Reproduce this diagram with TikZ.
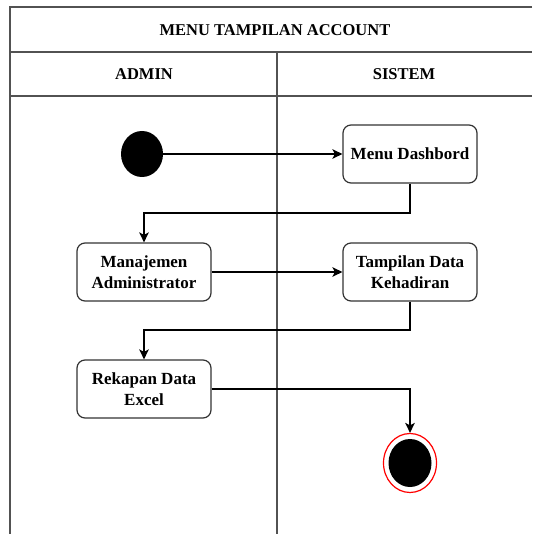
\documentclass[tikz,border=0pt]{standalone}
\usepackage{fontspec}
\setmainfont{Liberation Serif}
\usetikzlibrary{arrows.meta,shapes.geometric}
\begin{document}
\begin{tikzpicture}[x=1pt,y=-1pt,
  lane/.style={draw=black!68, line width=1.6pt},
  act/.style={draw=black!80, line width=1.2pt, rounded corners=8pt, fill=white,
    minimum width=134pt, minimum height=58pt, align=center, inner sep=0pt,
    font=\fontsize{17}{21.5}\selectfont\bfseries},
  hdr/.style={font=\fontsize{16.5}{20}\selectfont\bfseries, inner sep=0pt},
  flow/.style={draw=black, line width=1.6pt, -{Stealth[length=10pt,width=9.5pt,inset=2.5pt]}}
]
\useasboundingbox (0,0) rectangle (532,534);
% swimlane frame
\draw[lane] (532,7) -- (10,7) -- (10,534);
\draw[lane] (10,52) -- (532,52);
\draw[lane] (10,96) -- (532,96);
\draw[lane] (277,52) -- (277,534);
\node[hdr] (title) at (275,30) {MENU TAMPILAN ACCOUNT};
\node[hdr] (ladmin) at (144,74) {ADMIN};
\node[hdr] (lsis) at (404,74) {SISTEM};
% nodes
\node[ellipse, fill=black, minimum width=42pt, minimum height=46pt, inner sep=0pt] (start) at (142,154) {};
\node[act] (dash) at (410,154) {Menu Dashbord};
\node[act] (mgr) at (144,272) {Manajemen\\Administrator};
\node[act] (tamp) at (410,272) {Tampilan Data\\Kehadiran};
\node[act] (rek) at (144,389) {Rekapan Data\\Excel};
\node[ellipse, draw=red, line width=1.2pt, fill=white, minimum width=53pt, minimum height=59pt, inner sep=0pt] (endo) at (410,463) {};
\node[ellipse, fill=black, minimum width=43pt, minimum height=48pt, inner sep=0pt] (endi) at (410,463) {};
% connectors
\coordinate (b1) at (144,213);
\coordinate (b2) at (144,330);
\draw[flow] (start) -- (dash);
\draw[flow] (dash.south) |- (b1) -- (mgr.north);
\draw[flow] (mgr) -- (tamp);
\draw[flow] (tamp.south) |- (b2) -- (rek.north);
\draw[flow] (rek.east) -| (endo.north);
\end{tikzpicture}
\end{document}
